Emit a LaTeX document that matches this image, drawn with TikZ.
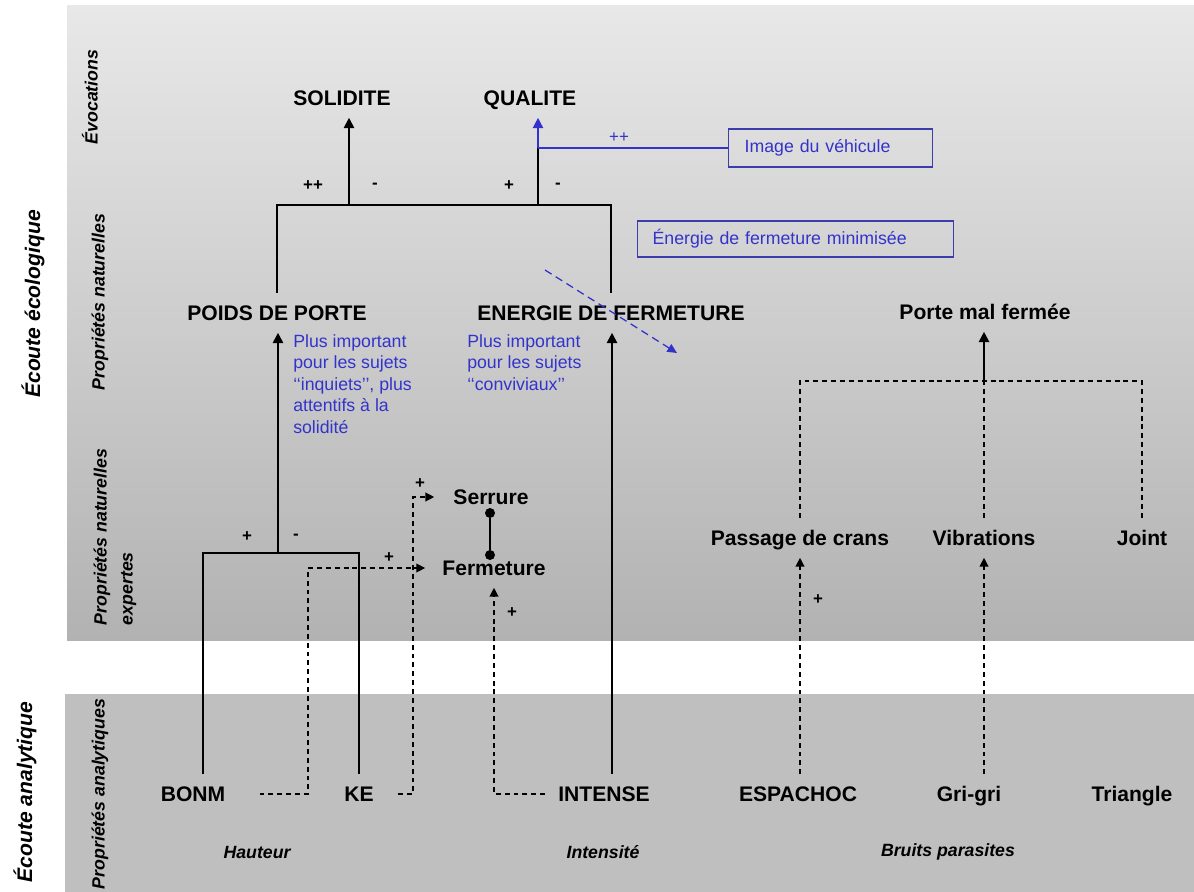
\documentclass[tikz,border=0pt]{standalone}
\usepackage{fontspec}
\setmainfont{Liberation Sans}
\usetikzlibrary{arrows.meta}
\definecolor{NoteClr}{RGB}{51,51,204}
\definecolor{BoxClr}{RGB}{60,60,170}
\definecolor{TopClr}{RGB}{232,232,232}
\definecolor{LowClr}{RGB}{178,178,178}
\definecolor{BandClr}{RGB}{191,191,191}

\begin{document}
\begin{tikzpicture}[x=0.025cm,y=-0.025cm,
  term/.style={font=\bfseries\fontsize{15}{18}\selectfont,text height=10.7pt,text depth=0pt,inner xsep=0.2cm,inner ysep=0.3cm},
  side/.style={rotate=90,font=\bfseries\itshape\fontsize{15}{18}\selectfont},
  layer/.style={rotate=90,font=\bfseries\itshape\fontsize{12.6}{18.4}\selectfont,align=left},
  group/.style={font=\bfseries\itshape\fontsize{12.6}{15}\selectfont},
  sign/.style={font=\bfseries\fontsize{12}{14}\selectfont,inner sep=0pt},
  note/.style={text=NoteClr,font=\fontsize{12.6}{15.3}\selectfont,align=left,anchor=north west,inner sep=0pt},
  notebox/.style={draw=BoxClr,line width=0.9pt,text=NoteClr,font=\fontsize{12.6}{15}\selectfont,anchor=west,align=left},
  link/.style={line width=1.4pt},
  arr/.style={link,-{Triangle[length=0.26cm,width=0.26cm]}},
  dline/.style={line width=0.9pt,dash pattern=on 3.5pt off 2.8pt},
  darr/.style={dline,-{Triangle[length=0.22cm,width=0.22cm]}},
  dot/.style={circle,fill,inner sep=0pt,minimum size=0.25cm}
]
\useasboundingbox (0,0) rectangle (1194,892);
\shade[top color=TopClr,bottom color=LowClr] (67,6) rectangle (1194,640);
\fill[BandClr] (65,694) rectangle (1194,892);

% niveaux
\node[side] (ecolo) at (33,304) {Écoute écologique};
\node[side] (analy) at (25,792) {Écoute analytique};
\node[layer] (evoc) at (90,97) {Évocations};
\node[layer] (natur) at (100,302) {Propriétés naturelles};
\node[layer] (expert) at (115,537) {Propriétés naturelles\\expertes};
\node[layer] (analyt) at (100,794) {Propriétés analytiques};

\node[term] (solid) at (342,98) {SOLIDITE};
\node[term] (qual) at (530,98) {QUALITE};
\node[term] (poids) at (277,313) {POIDS DE PORTE};
\node[term] (energ) at (611,313) {ENERGIE DE FERMETURE};
\node[term] (porte) at (985,312) {Porte mal fermée};
\node[term] (serr) at (491,497) {Serrure};
\node[term] (ferm) at (494,568) {Fermeture};
\node[term] (crans) at (800,538) {Passage de crans};
\node[term] (vib) at (984,538) {Vibrations};
\node[term] (joint) at (1142,538) {Joint};
\node[term] (bonm) at (193,794) {BONM};
\node[term] (ke) at (359,794) {KE};
\node[term] (intense) at (604,794) {INTENSE};
\node[term] (espa) at (798,794) {ESPACHOC};
\node[term] (grigri) at (969,794) {Gri-gri};
\node[term] (tri) at (1132,794) {Triangle};

\node[group] (haut) at (257,852) {Hauteur};
\node[group] (intens) at (603,852) {Intensité};
\node[group] (bruits) at (948,852) {Bruits parasites};

% notes
\node[note] (notePoids) at (293,334) {Plus important\\pour les sujets\\‘‘inquiets’’, plus\\attentifs à la\\solidité};
\node[note] (noteEnerg) at (467,334) {Plus important\\pour les sujets\\‘‘conviviaux’’};
\node[notebox,inner xsep=0.4cm,text width=4.3cm,minimum height=0.95cm] (imgBox) at (728,148) {Image du véhicule};
\node[notebox,inner xsep=0.375cm,text width=7.15cm,minimum height=0.9cm] (minBox) at (637,239) {Énergie de fermeture minimisée};

% evocations
\coordinate (barTop) at (450,205);
\coordinate (sUp) at (349,205);
\coordinate (qUp) at (538,205);
\coordinate (qBlue) at (538,148);
\draw[link] (poids.north) |- (barTop) -| (energ.north);
\draw[arr] (sUp) -- (sUp |- solid.south);
\draw[link] (qUp) -- (qBlue);
\draw[NoteClr,line width=1pt,-{Triangle[length=0.26cm,width=0.26cm]}] (qBlue) -- (qBlue |- qual.south);
\draw[NoteClr,line width=0.9pt] (qBlue) -- (imgBox.west);
\node[sign,text=NoteClr,font=\fontsize{12}{14}\selectfont] (pp) at (619,138) {++};
\node[sign] (sA) at (313,186) {++};
\node[sign] (sB) at (375,186) {-};
\node[sign] (sC) at (509,186) {+};
\node[sign] (sD) at (558,186) {-};

\coordinate (hintA) at (545,270);
\coordinate (hintB) at (677,353);
\draw[NoteClr,line width=0.9pt,dash pattern=on 5.5pt off 3.5pt,-{Triangle[length=0.24cm,width=0.22cm]}] (hintA) -- (hintB);

% hauteur
\coordinate (barLow) at (278,553);
\draw[arr] (barLow) -- (barLow |- poids.south);
\draw[link] ([xshift=0.25cm]bonm.north) |- (barLow) -| (ke.north);
\node[sign] (sE) at (247,537) {+};
\node[sign] (sF) at (296,537) {-};

\draw[arr] ([xshift=0.2cm]intense.north) -- ([xshift=0.2cm]intense.north |- energ.south);

\coordinate (dB) at (308,568);
\coordinate (dK) at (413,497);
\draw[darr,shorten >=0.225cm] ([xshift=0.65cm]bonm.east) -| (dB) -- (ferm.west);
\draw[darr,shorten >=0.275cm] ([xshift=0.4cm]ke.east) -| (dK) -- (serr.west);
\draw[darr] ([xshift=-0.125cm]intense.west) -| (ferm.south);
\node[sign] (sG) at (389,558) {+};
\node[sign] (sH) at (420,484) {+};
\node[sign] (sI) at (512,613) {+};

\node[dot] (dotS) at (490,513) {};
\node[dot] (dotF) at (490,555) {};
\draw[link] (dotS) -- (dotF);

% bruits parasites
\coordinate (jPorte) at (984,381);
\draw[dline] (crans.north) |- (jPorte) -| (joint.north);
\draw[dline] (vib.north) -- (jPorte);
\draw[arr] (jPorte) -- (jPorte |- porte.south);
\draw[darr] (crans.south |- espa.north) -- (crans.south);
\draw[darr] (vib.south |- grigri.north) -- (vib.south);
\node[sign] (sJ) at (818,600) {+};
\end{tikzpicture}
\end{document}
